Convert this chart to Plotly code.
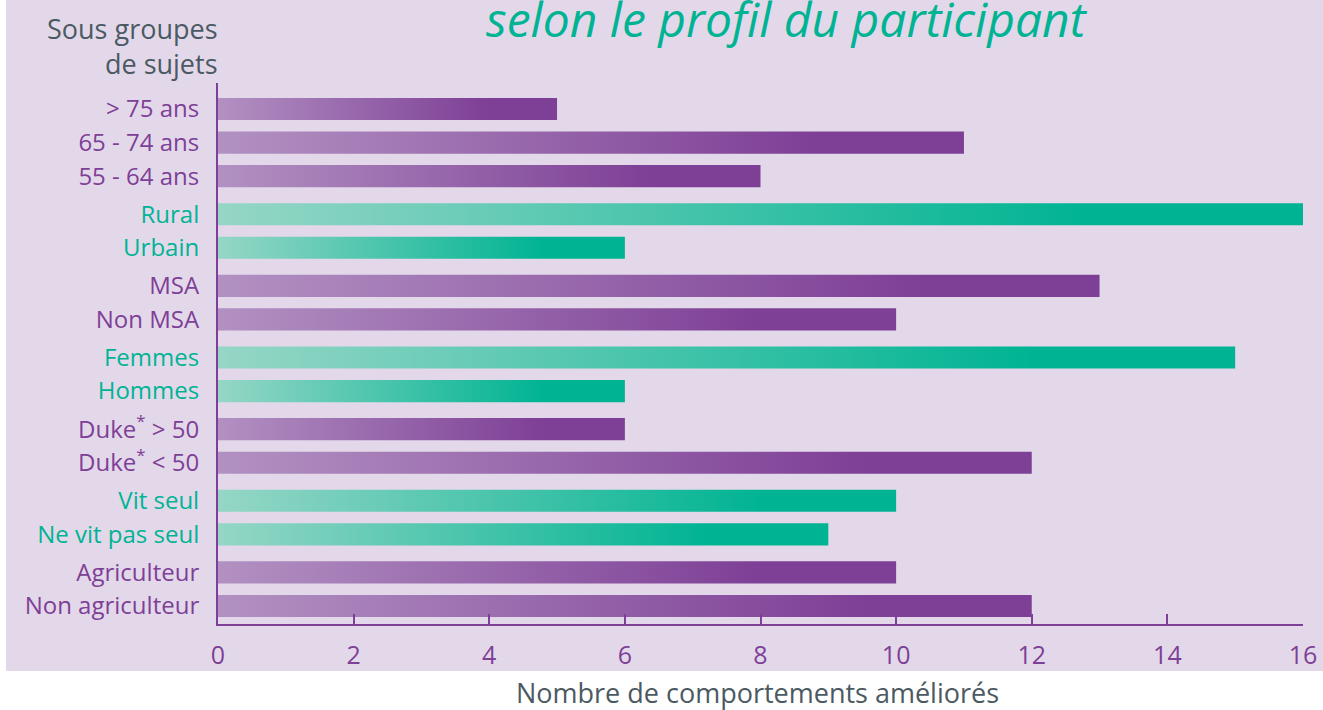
import plotly.graph_objects as go

# ---- data ----
categories = [
    "> 75 ans", "65 - 74 ans", "55 - 64 ans",
    "Rural", "Urbain",
    "MSA", "Non MSA",
    "Femmes", "Hommes",
    "Duke<sup>*</sup> > 50", "Duke<sup>*</sup> < 50",
    "Vit seul", "Ne vit pas seul",
    "Agriculteur", "Non agriculteur",
]
values = [5, 11, 8, 16, 6, 13, 10, 15, 6, 6, 12, 10, 9, 10, 12]
group_sizes = [3, 2, 2, 2, 2, 2, 2]
group_kind = ["p", "t", "p", "t", "p", "t", "p"]
x_ticks = [0, 2, 4, 6, 8, 10, 12, 14, 16]

# ---- styles ----
PURPLE = "#7e3f96"
PURPLE_LIGHT = "#b291c2"
TEAL = "#00b493"
TEAL_LIGHT = "#96d6c6"
BG = "#e3d8ea"
GRAY = "#4b5a62"
GROUP_GAP = 1.134
HALF = 0.33

# positions derived from group structure
positions, kinds = [], []
pos = 0.0
for gi, (n, k) in enumerate(zip(group_sizes, group_kind)):
    for j in range(n):
        positions.append(pos)
        kinds.append(k)
        pos += 1.0 if j < n - 1 else GROUP_GAP
last = positions[-1]

fig = go.Figure()
for cat, v, p, k in zip(categories, values, positions, kinds):
    light, dark = (PURPLE_LIGHT, PURPLE) if k == "p" else (TEAL_LIGHT, TEAL)
    fig.add_trace(go.Scatter(
        x=[0, v, v, 0, 0],
        y=[p - HALF, p - HALF, p + HALF, p + HALF, p - HALF],
        mode="lines", line=dict(width=0), fill="toself",
        fillgradient=dict(type="horizontal",
                          colorscale=[[0, light], [0.8, dark], [1, dark]]),
        hoverinfo="skip", showlegend=False,
    ))

ticktext = [
    f'<span style="color:{PURPLE if k == "p" else TEAL}">{c}</span>'
    for c, k in zip(categories, kinds)
]

W, H = 1323, 710
ml, mr, mt, mb = 218, 20, 83, 86
pw, ph = W - ml - mr, H - mt - mb

def px_x(px):
    return (px - ml) / pw

def px_y(py):
    return (H - mb - py) / ph

fig.add_shape(type="rect", xref="paper", yref="paper",
              x0=px_x(6), x1=px_x(W + 5), y0=px_y(671), y1=px_y(-5),
              fillcolor=BG, line=dict(width=0), layer="below")

def note(text, x, y, size, color, xanchor="center", yanchor="middle",
         align="center"):
    return dict(text=text, xref="paper", yref="paper", x=px_x(x), y=px_y(y),
                xanchor=xanchor, yanchor=yanchor, showarrow=False, align=align,
                font=dict(size=size, color=color, family="Open Sans"))

fig.update_layout(
    width=W, height=H,
    margin=dict(l=ml, r=mr, t=mt, b=mb),
    paper_bgcolor="white", plot_bgcolor="rgba(0,0,0,0)",
    font=dict(family="Open Sans", color=PURPLE),
    xaxis=dict(range=[0, 16], tickvals=x_ticks, ticks="inside", ticklen=10,
               tickwidth=2, tickcolor=PURPLE, showline=True, linecolor=PURPLE,
               linewidth=2, showgrid=False, zeroline=False, automargin=False,
               tickfont=dict(size=25, color=PURPLE), ticklabelstandoff=8),
    yaxis=dict(range=[last + 0.536, -0.774], tickvals=positions,
               ticktext=ticktext, showline=True, linecolor=PURPLE, linewidth=2,
               showgrid=False, zeroline=False, ticks="outside", ticklen=12,
               automargin=False,
               tickcolor="rgba(0,0,0,0)", tickfont=dict(size=24)),
    annotations=[
        note("Sous groupes<br>de sujets", 220, 46, 27, GRAY, xanchor="right",
             align="right"),
        note("<i>selon le profil du participant</i>", 787, 53, 48, TEAL,
             yanchor="bottom"),
        note("Nombre de comportements améliorés", 757, 692, 27, GRAY),
    ],
)

fig.write_html("out.html")
